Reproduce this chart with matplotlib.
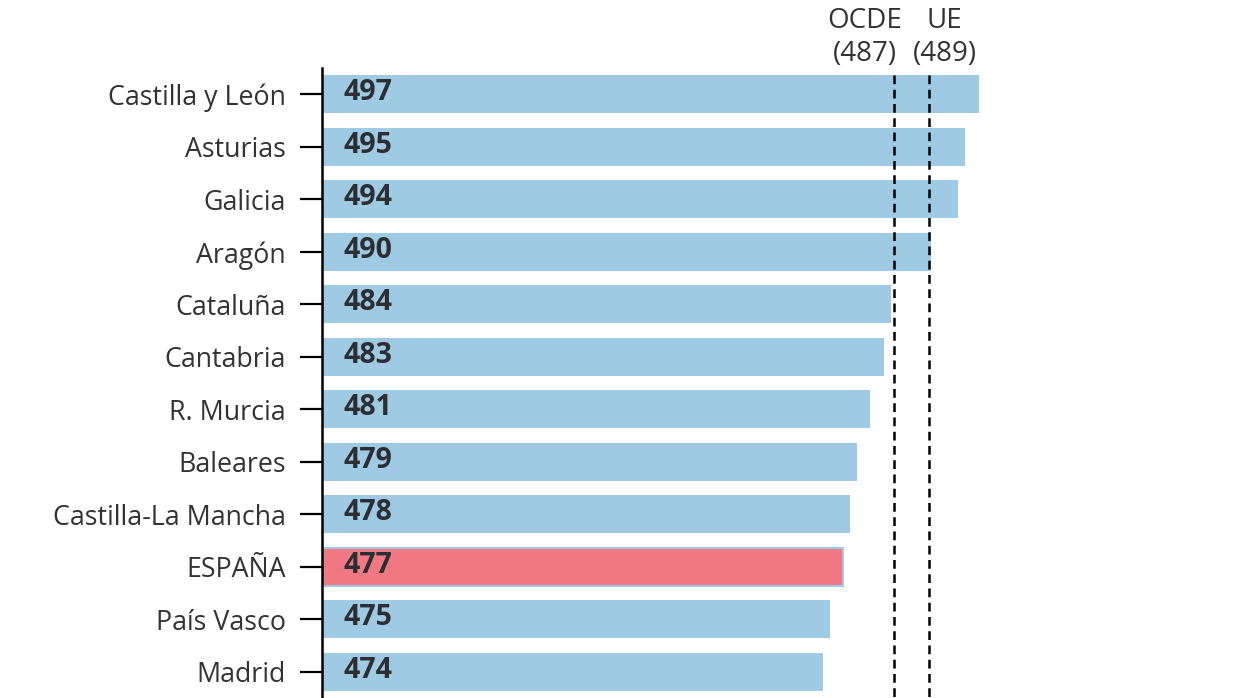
import matplotlib
matplotlib.use("Agg")
import matplotlib.pyplot as plt

plt.rcParams['font.family'] = ['Open Sans', 'DejaVu Sans']

# data
regiones = ["Castilla y León", "Asturias", "Galicia", "Aragón", "Cataluña",
            "Cantabria", "R. Murcia", "Baleares", "Castilla-La Mancha",
            "ESPAÑA", "País Vasco", "Madrid"]
puntos = [497, 495, 494, 490, 484, 483, 481, 479, 478, 477, 475, 474]
destacado = "ESPAÑA"
referencias = ["OCDE\n(487)", "UE\n(489)"]
# where the dashed lines sit in the original picture
ref_lineas = [484.5, 489.7]
ref_texto_x = [480.2, 492.0]

azul = "#9ecae3"
rojo = "#f27983"
texto = "#333333"

fig = plt.figure(figsize=(12.33, 6.98), dpi=100)
ax = fig.add_axes([322 / 1233, 0, 880 / 1233, 630 / 698])

y = list(range(len(regiones)))
for i, (r, v) in enumerate(zip(regiones, puntos)):
    if r == destacado:
        ax.barh(i, v - 400, left=400, height=0.72, color=rojo,
                edgecolor=azul, linewidth=1.5, zorder=2)
    else:
        ax.barh(i, v - 400, left=400, height=0.72, color=azul, zorder=2)
    ax.text(403.2, i - 0.03, str(v), ha='left', va='center', fontsize=20.5,
            fontweight='bold', color="#2b2f33", zorder=3)

for xl in ref_lineas:
    ax.vlines(xl, -0.36, 11.5, colors='black', linewidth=1.8,
              linestyles=(0, (3.5, 2.2)), zorder=4)

for tx, lab in zip(ref_texto_x, referencias):
    ax.text(tx, 1.0, lab, transform=ax.get_xaxis_transform(), ha='center',
            va='bottom', fontsize=20, color=texto, linespacing=1.22)

ax.set_xlim(400, 530)
ax.set_ylim(11.5, -0.5)
ax.set_yticks(y)
ax.set_yticklabels(regiones, fontsize=19.3, color=texto)
ax.tick_params(axis='y', length=16, width=1.6, pad=10, color='black')
ax.set_xticks([])
for s in ['top', 'right', 'bottom']:
    ax.spines[s].set_visible(False)
ax.spines['left'].set_linewidth(1.8)
ax.patch.set_alpha(0)

fig.savefig("out.png", dpi=100)
